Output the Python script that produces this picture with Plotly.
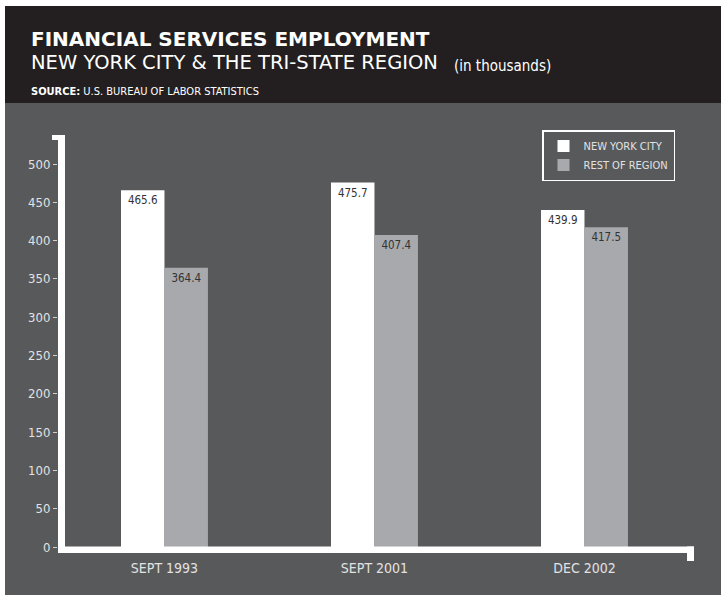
import plotly.graph_objects as go

# ---- data ----
categories = ["SEPT 1993", "SEPT 2001", "DEC 2002"]
nyc_values = [465.6, 475.7, 439.9]
rest_values = [364.4, 407.4, 417.5]
series_names = ["NEW YORK CITY", "REST OF REGION"]
y_tick_values = [0, 50, 100, 150, 200, 250, 300, 350, 400, 450, 500]

# ---- layout geometry (pixels) ----
W, H = 723, 598
ML, MR, MT, MB = 58, 31, 135, 51
PW = W - ML - MR
PH = H - MT - MB


def px(x):
    return (x - ML) / PW


def py(y):
    return (H - MB - y) / PH


FONT = "Liberation Sans Narrow, Arial Narrow, DejaVu Sans Condensed, sans-serif"
HEAD_FONT = "DejaVu Sans, sans-serif"
NYC_COLOR = "#ffffff"
REST_COLOR = "#a7a9ac"
PANEL = "#58595b"
HEADER = "#231f20"
LABEL_COLOR = "#e2e2e2"

fig = go.Figure()
fig.add_trace(go.Bar(
    x=categories, y=nyc_values, name=series_names[0],
    marker=dict(color=NYC_COLOR, line=dict(width=0)),
    text=[f"{v:.1f}" for v in nyc_values], textposition="inside",
    insidetextanchor="end", textangle=0,
    textfont=dict(family=FONT, size=11.5, color="#333333"),
))
fig.add_trace(go.Bar(
    x=categories, y=rest_values, name=series_names[1],
    marker=dict(color=REST_COLOR, line=dict(width=0)),
    text=[f"{v:.1f}" for v in rest_values], textposition="inside",
    insidetextanchor="end", textangle=0,
    textfont=dict(family=FONT, size=11.5, color="#333333"),
))

shapes = [
    # header band
    dict(type="rect", xref="paper", yref="paper", x0=px(5), x1=px(721), y0=py(103), y1=py(6),
         fillcolor=HEADER, line=dict(width=0), layer="below"),
    # grey panel
    dict(type="rect", xref="paper", yref="paper", x0=px(5), x1=px(721), y0=py(595), y1=py(103),
         fillcolor=PANEL, line=dict(width=0), layer="below"),
    # y axis bar
    dict(type="rect", xref="paper", yref="paper", x0=px(58), x1=px(65), y0=py(553), y1=py(135),
         fillcolor="white", line=dict(width=0), layer="above"),
    # top tab
    dict(type="rect", xref="paper", yref="paper", x0=px(52), x1=px(65), y0=py(140), y1=py(135),
         fillcolor="white", line=dict(width=0), layer="above"),
    # x axis bar
    dict(type="rect", xref="paper", yref="paper", x0=px(58), x1=px(694), y0=py(553), y1=py(546.5),
         fillcolor="white", line=dict(width=0), layer="above"),
    # right end tab
    dict(type="rect", xref="paper", yref="paper", x0=px(687), x1=px(694), y0=py(561), y1=py(546.5),
         fillcolor="white", line=dict(width=0), layer="above"),
]

annotations = [
    dict(xref="paper", yref="paper", x=px(29), y=py(39), xanchor="left", yanchor="middle",
         text="<b>FINANCIAL SERVICES EMPLOYMENT</b>", showarrow=False,
         font=dict(family=HEAD_FONT, size=20, color="white")),
    dict(xref="paper", yref="paper", x=px(29), y=py(62.5), xanchor="left", yanchor="middle",
         text="NEW YORK CITY &amp; THE TRI-STATE REGION", showarrow=False,
         font=dict(family=HEAD_FONT, size=19.5, color="white")),
    dict(xref="paper", yref="paper", x=px(452), y=py(65.5), xanchor="left", yanchor="middle",
         text="(in thousands)", showarrow=False,
         font=dict(family=FONT, size=15, color="white")),
    dict(xref="paper", yref="paper", x=px(29), y=py(91), xanchor="left", yanchor="middle",
         text="<b>SOURCE:</b> U.S. BUREAU OF LABOR STATISTICS", showarrow=False,
         font=dict(family=FONT, size=11, color="white")),
]

fig.update_layout(
    width=W, height=H,
    margin=dict(l=ML, r=MR, t=MT, b=MB, pad=0),
    paper_bgcolor="white",
    plot_bgcolor="rgba(0,0,0,0)",
    barmode="group", bargap=0.586, bargroupgap=0,
    showlegend=True,
    legend=dict(x=px(542), y=py(130), xanchor="left", yanchor="top",
                bordercolor="white", borderwidth=1.5, bgcolor="rgba(0,0,0,0)",
                font=dict(family=FONT, size=11, color=LABEL_COLOR),
                traceorder="normal", tracegroupgap=0),
    shapes=shapes,
    annotations=annotations,
    xaxis=dict(type="category", range=[-0.507, 2.512], showgrid=False, zeroline=False,
               showline=False, ticks="outside", ticklen=8, tickcolor="rgba(0,0,0,0)",
               tickfont=dict(family=FONT, size=14, color=LABEL_COLOR), fixedrange=True),
    yaxis=dict(range=[0, PH / 0.766], tickvals=y_tick_values, showgrid=False, zeroline=False,
               showline=False, ticks="outside", ticklen=4, tickwidth=1, tickcolor="#d0d0d0",
               tickfont=dict(family=FONT, size=13, color=LABEL_COLOR), fixedrange=True),
)

fig.write_html("out.html")
